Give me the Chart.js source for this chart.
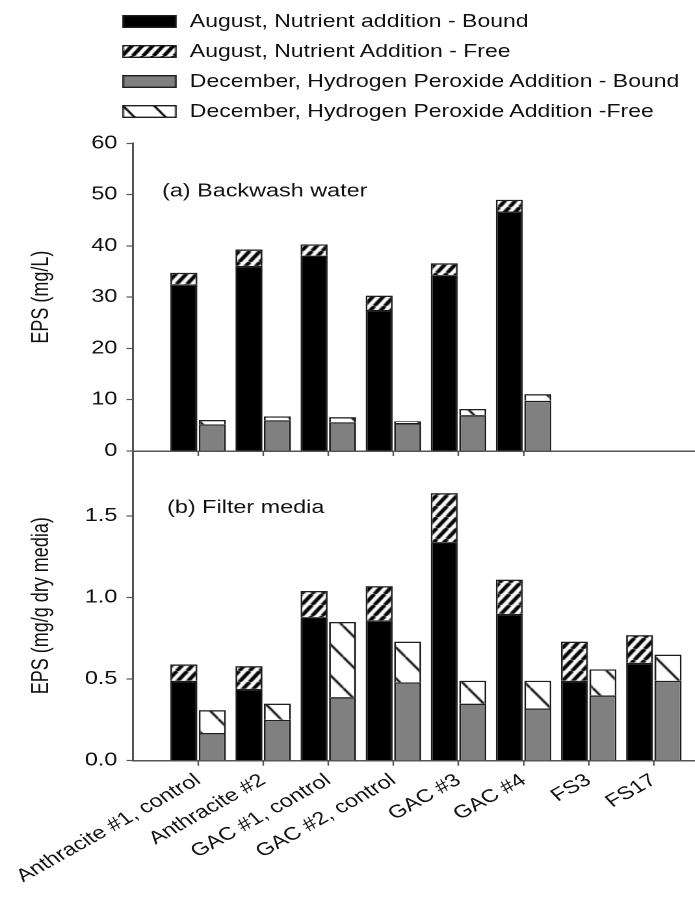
<!DOCTYPE html>
<html>
<head>
<meta charset="utf-8">
<title>EPS - backwash water and filter media</title>
<script src="https://cdn.jsdelivr.net/npm/chart.js@4.4.1/dist/chart.umd.min.js"></script>
<style>
  html, body { margin: 0; padding: 0; background: #fff; overflow: hidden; }
  #page { position: relative; width: 695px; height: 899px; overflow: hidden; }
  /* the original figure is stretched horizontally, so we draw narrow and widen it */
  #stretch { position: absolute; left: 0; top: 0; width: 553px; height: 899px; transform: scaleX(1.3); transform-origin: 0 0; }
  #waterChart { position: absolute; left: 0; top: 130px; }
  #mediaChart { position: absolute; left: 0; top: 440px; }
  .legend-row { position: absolute; left: 94px; height: 20px; display: flex; align-items: center;
                font: 17.7px 'Liberation Sans', Arial, sans-serif; color: #111; white-space: nowrap; }
  .legend-row canvas { width: 42px; height: 13px; margin-right: 10px; }
</style>
</head>
<body>
<div id="page">
  <div id="stretch">
    <div id="legend"></div>
    <canvas id="waterChart" width="553" height="341"></canvas>
    <canvas id="mediaChart" width="553" height="459"></canvas>
  </div>
</div>
<script>
// ===== Data =====
const categories = ['Anthracite #1, control', 'Anthracite #2', 'GAC #1, control', 'GAC #2, control',
                    'GAC #3', 'GAC #4', 'FS3', 'FS17'];
const seriesNames = ['August, Nutrient addition - Bound', 'August, Nutrient Addition - Free',
                     'December, Hydrogen Peroxide Addition - Bound', 'December, Hydrogen Peroxide Addition -Free'];

// (a) Backwash water, mg/L
const augBoundWater = [32.5, 36.1, 38.1, 27.5, 34.3, 46.7];
const augFreeWater  = [2.25, 3.2, 2.2, 2.8, 2.3, 2.3];
const decBoundWater = [5.2, 6.0, 5.6, 5.45, 7.0, 9.8];
const decFreeWater  = [0.85, 0.75, 1.0, 0.35, 1.2, 1.3];

// (b) Filter media, mg/g dry media
const augBoundMedia = [0.49, 0.44, 0.88, 0.86, 1.34, 0.90, 0.49, 0.60];
const augFreeMedia  = [0.10, 0.14, 0.16, 0.21, 0.30, 0.21, 0.24, 0.17];
const decBoundMedia = [0.17, 0.25, 0.39, 0.48, 0.35, 0.32, 0.40, 0.49];
const decFreeMedia  = [0.14, 0.10, 0.46, 0.25, 0.14, 0.17, 0.16, 0.16];

const waterTicks = [0, 10, 20, 30, 40, 50, 60];
const mediaTicks = [0, 0.5, 1.0, 1.5];

// ===== Look =====
const FONT = "'Liberation Sans', Arial, sans-serif";
const axisColor = '#555';
const barBorder = '#1e1e1e';
const Y_AXIS_WIDTH = 102.3;

Chart.defaults.font.family = FONT;
Chart.defaults.font.size = 18;
Chart.defaults.color = '#111';

function makeStripes() {
  const c = document.createElement('canvas');
  c.width = 8; c.height = 11;
  const g = c.getContext('2d');
  g.fillStyle = '#fff'; g.fillRect(0, 0, 8, 11);
  g.strokeStyle = '#000'; g.lineWidth = 3.2;
  for (let k = -1; k <= 1; k++) {
    g.beginPath(); g.moveTo(k * 8, 11); g.lineTo(k * 8 + 8, 0); g.stroke();
  }
  return g.createPattern(c, 'repeat');
}

function makeBackslash() {
  const c = document.createElement('canvas');
  c.width = 24; c.height = 31;
  const g = c.getContext('2d');
  g.fillStyle = '#fff'; g.fillRect(0, 0, 24, 31);
  g.strokeStyle = '#000'; g.lineWidth = 1.8;
  for (let k = -1; k <= 1; k++) {
    g.beginPath(); g.moveTo(k * 24, 0); g.lineTo(k * 24 + 24, 31); g.stroke();
  }
  return g.createPattern(c, 'repeat');
}

const fills = ['#000', makeStripes(), '#808080', makeBackslash()];
const stacks = ['aug', 'aug', 'dec', 'dec'];

// one blank slot on each side so the axis runs past the groups like the original
const xLabels = ['', ...categories, ''];
const pad = arr => [null, ...arr];

function buildDatasets(series) {
  return series.map((values, i) => ({
    label: seriesNames[i],
    data: pad(values),
    backgroundColor: fills[i],
    borderColor: barBorder,
    borderWidth: 1.4,
    stack: stacks[i],
    categoryPercentage: 0.875,
    barPercentage: 0.95,
  }));
}

// ===== Panel caption plugin =====
const panelLabel = {
  id: 'panelLabel',
  afterDatasetsDraw(chart, args, opts) {
    const { ctx, chartArea } = chart;
    ctx.save();
    ctx.font = '18px ' + FONT;
    ctx.fillStyle = '#111';
    ctx.textBaseline = 'middle';
    ctx.fillText(opts.text, chartArea.left + opts.dx, chartArea.top + opts.dy);
    ctx.restore();
  }
};

// axis boxes are pinned so both panels line up exactly
function noPadding(s) {
  s.paddingLeft = 0; s.paddingRight = 0; s.paddingTop = 0; s.paddingBottom = 0;
}

// tick marks only under the groups that have data
function xScale(showLabels, groups) {
  return {
    stacked: true,
    offset: false,
    border: { color: axisColor, width: 1.5 },
    grid: {
      offset: false, drawOnChartArea: false, tickLength: 5, tickWidth: 1.2,
      tickColor: c => (c.index === 0 || c.index > groups ? 'rgba(0,0,0,0)' : axisColor)
    },
    ticks: showLabels
      ? { autoSkip: false, minRotation: 36, maxRotation: 36, padding: 4, font: { size: 18 } }
      : { display: false },
    afterFit: s => { s.height = showLabels ? 138.3 : 20; noPadding(s); }
  };
}

function yScale(max, tickValues, title, fmt) {
  return {
    stacked: true,
    min: 0,
    max: max,
    border: { color: axisColor, width: 1.5 },
    grid: { drawOnChartArea: false, tickLength: 5, tickWidth: 1.2, tickColor: axisColor },
    ticks: { padding: 7, callback: fmt },
    afterBuildTicks: s => { s.ticks = tickValues.map(v => ({ value: v })); },
    title: { display: true, text: title, padding: { top: 21, bottom: 0 }, font: { size: 18 } },
    afterFit: s => { s.width = Y_AXIS_WIDTH; noPadding(s); }
  };
}

// ===== (a) Backwash water =====
new Chart(document.getElementById('waterChart'), {
  type: 'bar',
  data: { labels: xLabels, datasets: buildDatasets([augBoundWater, augFreeWater, decBoundWater, decFreeWater]) },
  options: {
    responsive: false,
    devicePixelRatio: 2,
    animation: false,
    layout: { padding: { top: 13.3, right: 0, bottom: 0, left: 0 } },
    plugins: {
      legend: { display: false },
      tooltip: { enabled: false },
      panelLabel: { text: '(a) Backwash water', dx: 22.3, dy: 48.4 }
    },
    scales: {
      x: xScale(false, augBoundWater.length),
      y: yScale(60, waterTicks, 'EPS (mg/L)', v => String(v))
    }
  },
  plugins: [panelLabel]
});

// ===== (b) Filter media =====
const mediaChart = new Chart(document.getElementById('mediaChart'), {
  type: 'bar',
  data: { labels: xLabels, datasets: buildDatasets([augBoundMedia, augFreeMedia, decBoundMedia, decFreeMedia]) },
  options: {
    responsive: false,
    devicePixelRatio: 2,
    animation: false,
    layout: { padding: { top: 10.7, right: 0, bottom: 0, left: 0 } },
    plugins: {
      legend: { display: false },
      tooltip: { enabled: false },
      panelLabel: { text: '(b) Filter media', dx: 26.2, dy: 57.3 }
    },
    scales: {
      x: xScale(true, augBoundMedia.length),
      y: yScale(1.9, mediaTicks, 'EPS (mg/g dry media)', v => Number(v).toFixed(1))
    }
  },
  plugins: [panelLabel]
});

// ===== Legend (built from the dataset styles) =====
function renderLegend(chart) {
  const box = document.getElementById('legend');
  chart.data.datasets.forEach((ds, i) => {
    const row = document.createElement('div');
    row.className = 'legend-row';
    row.style.top = (21.5 + 30 * i - 10) + 'px';
    const sw = document.createElement('canvas');
    sw.width = 42; sw.height = 13;
    const g = sw.getContext('2d');
    g.fillStyle = ds.backgroundColor;
    g.fillRect(0, 0, 42, 13);
    g.strokeStyle = barBorder;
    g.lineWidth = 1.4;
    g.strokeRect(0.7, 0.7, 40.6, 11.6);
    const txt = document.createElement('span');
    txt.textContent = ds.label;
    row.appendChild(sw);
    row.appendChild(txt);
    box.appendChild(row);
  });
}
renderLegend(mediaChart);
</script>
</body>
</html>
